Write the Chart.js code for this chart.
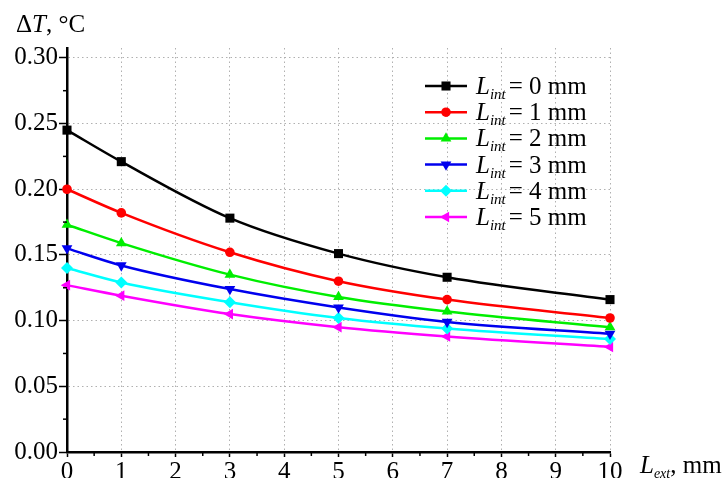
<!DOCTYPE html>
<html><head><meta charset="utf-8">
<script src="https://cdn.jsdelivr.net/npm/chart.js@4"></script>
<style>html,body{margin:0;padding:0;background:#fff}#wrap{width:724px;height:478px;position:relative}</style>
</head><body><div id="wrap"><canvas id="c" width="724" height="478"></canvas></div>
<script>
const lext = [0, 1, 3, 5, 7, 10];
const lintValues = [0, 1, 2, 3, 4, 5];
const dT0 = [0.245, 0.221, 0.178, 0.151, 0.133, 0.116];
const dT1 = [0.200, 0.182, 0.152, 0.130, 0.116, 0.102];
const dT2 = [0.173, 0.159, 0.135, 0.118, 0.107, 0.095];
const dT3 = [0.155, 0.142, 0.124, 0.110, 0.099, 0.090];
const dT4 = [0.140, 0.129, 0.114, 0.102, 0.094, 0.086];
const dT5 = [0.127, 0.119, 0.105, 0.095, 0.088, 0.080];
const xTicks = [0,1,2,3,4,5,6,7,8,9,10];
const yTicks = [0.00,0.05,0.10,0.15,0.20,0.25,0.30];
const seriesColors = ['#000000','#ff0000','#00ee00','#0000ee','#00ffff','#ff00ff'];
const seriesShapes = ['rect','circle','triangle','triangle','rectRot','triangle'];
const seriesRot = [0,0,0,180,0,270];
const seriesRadius = [6.4,4.8,6.2,6.2,6,6.2];
const allSeries = [dT0,dT1,dT2,dT3,dT4,dT5];

const SERIF = '"Liberation Serif", "DejaVu Serif", serif';
const FS = 25;

const datasets = allSeries.map((vals,i)=>({
  label: 'L_int = ' + lintValues[i] + ' mm',
  data: vals.map((v,j)=>({x: lext[j], y: v})),
  borderColor: seriesColors[i],
  backgroundColor: seriesColors[i],
  borderWidth: 2.5,
  pointStyle: seriesShapes[i],
  pointRotation: seriesRot[i],
  pointRadius: seriesRadius[i],
  pointBorderWidth: 0,
  tension: 0.4,
  cubicInterpolationMode: 'monotone',
  clip: false
}));

const extras = {
  id: 'extras',
  afterDraw(chart){
    const ctx = chart.ctx;
    const xs = chart.scales.x, ys = chart.scales.y;
    ctx.save();
    // minor ticks
    ctx.strokeStyle = '#000'; ctx.lineWidth = 1.5;
    for (let v = 0.025; v < 0.31; v += 0.05){
      const py = ys.getPixelForValue(v);
      ctx.beginPath(); ctx.moveTo(xs.left-4, py); ctx.lineTo(xs.left, py); ctx.stroke();
    }
    for (let v = 0.5; v < 10; v += 1){
      const px = xs.getPixelForValue(v);
      ctx.beginPath(); ctx.moveTo(px, ys.bottom); ctx.lineTo(px, ys.bottom+4); ctx.stroke();
    }
    // axis titles
    ctx.fillStyle = '#000';
    ctx.textBaseline = 'alphabetic'; ctx.textAlign = 'left';
    ctx.font = FS + 'px ' + SERIF;
    let x0 = 16, y0 = 32;
    ctx.fillText('Δ', x0, y0); x0 += ctx.measureText('Δ').width;
    ctx.font = 'italic ' + FS + 'px ' + SERIF;
    ctx.fillText('T', x0, y0); x0 += ctx.measureText('T').width;
    ctx.font = FS + 'px ' + SERIF;
    ctx.fillText(', °C', x0, y0);
    // x title
    x0 = 640; y0 = 473;
    ctx.font = 'italic ' + FS + 'px ' + SERIF;
    ctx.fillText('L', x0, y0); x0 += ctx.measureText('L').width;
    ctx.font = 'italic 14px ' + SERIF;
    ctx.fillText('ext', x0, y0+5); x0 += ctx.measureText('ext').width;
    ctx.font = FS + 'px ' + SERIF;
    ctx.fillText(', mm', x0, y0);
    // legend
    const rowY0 = 86, rowH = 26.2;
    chart.data.datasets.forEach((ds,i)=>{
      const cy = rowY0 + i*rowH;
      ctx.strokeStyle = ds.borderColor; ctx.lineWidth = 2.5;
      ctx.beginPath(); ctx.moveTo(425, cy); ctx.lineTo(467, cy); ctx.stroke();
      ctx.fillStyle = ds.backgroundColor;
      Chart.helpers.drawPoint(ctx, {pointStyle: ds.pointStyle, rotation: ds.pointRotation, radius: ds.pointRadius, borderWidth: 0}, 446, cy);
      ctx.fillStyle = '#000';
      let tx = 476; const by = cy + 8;
      const parts = ds.label.split(' = ');
      ctx.font = 'italic ' + FS + 'px ' + SERIF;
      ctx.fillText('L', tx, by); tx += ctx.measureText('L').width;
      ctx.font = 'italic 15px ' + SERIF;
      ctx.fillText('int', tx, by+5); tx += ctx.measureText('int').width + 3;
      ctx.font = FS + 'px ' + SERIF;
      ctx.fillText('= ' + parts[1], tx, by);
    });
    ctx.restore();
  }
};

new Chart(document.getElementById('c'), {
  type: 'line',
  data: { datasets },
  options: {
    responsive: false,
    animation: false,
    layout: { padding: { top: 48, right: 114, left: 0, bottom: 0 } },
    plugins: { legend: { display: false }, tooltip: { enabled: false } },
    scales: {
      x: {
        type: 'linear', min: 0, max: 10,
        afterBuildTicks: s => { s.ticks = xTicks.map(v=>({value:v})); },
        afterFit: s => { s.height = 26; },
        ticks: { font: { family: SERIF, size: FS }, color: '#000', padding: 0, maxRotation: 0, autoSkip: false,
          callback: v => String(v) },
        grid: { color: ctx => ctx.tick && ctx.tick.value === 0 ? 'rgba(0,0,0,0)' : '#b0b0b0', lineWidth: 1,
          tickLength: 5, tickColor: '#000', tickWidth: 1.5, tickBorderDash: [] },
        border: { display: true, color: '#000', width: 2.5, dash: [1.5,3] }
      },
      y: {
        type: 'linear', min: 0, max: 0.3075,
        afterBuildTicks: s => { s.ticks = yTicks.map(v=>({value:v})); },
        afterFit: s => { s.width = 67; },
        ticks: { font: { family: SERIF, size: FS }, color: '#000', padding: 1, autoSkip: false,
          callback: v => v.toFixed(2) },
        grid: { color: ctx => ctx.tick && ctx.tick.value === 0 ? 'rgba(0,0,0,0)' : '#b0b0b0', lineWidth: 1,
          tickLength: 8, tickColor: '#000', tickWidth: 1.5, tickBorderDash: [] },
        border: { display: true, color: '#000', width: 2.5, dash: [1.5,3] }
      }
    }
  },
  plugins: [extras]
});
</script></body></html>
